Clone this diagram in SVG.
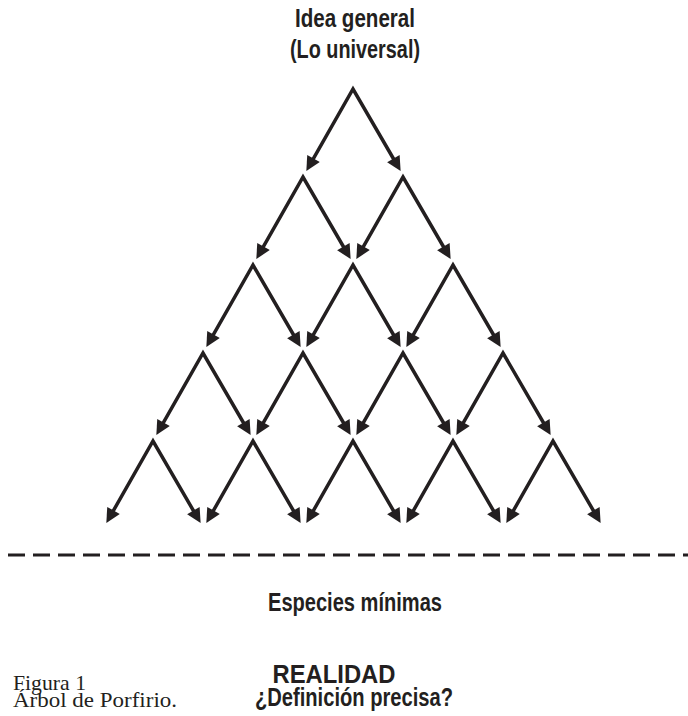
<svg xmlns="http://www.w3.org/2000/svg" width="688" height="716" viewBox="0 0 688 716">
<style>
.lbl{font-family:"Liberation Sans Narrow","Liberation Sans",Arial,sans-serif;font-size:25px;font-weight:bold;fill:#231f20;text-anchor:middle;}
.cap{font-family:"Liberation Serif","Times New Roman",serif;font-size:22px;fill:#231f20;}
.arr{fill:none;stroke:#231f20;stroke-width:3.5;stroke-linejoin:miter;marker-start:url(#ah);marker-end:url(#ah);}
.dash{stroke:#231f20;stroke-width:3;stroke-dasharray:17 8;}
</style>
<defs>
<marker id="ah" markerUnits="userSpaceOnUse" markerWidth="20" markerHeight="20" viewBox="-2 -8 18 16" refX="2" refY="0" orient="auto-start-reverse">
<path d="M0,-6.5 L13,0 L0,6.5 z" fill="#231f20"/>
</marker>
</defs>
<g id="top-label">
<text class="lbl" x="355" y="27" textLength="120" lengthAdjust="spacingAndGlyphs">Idea general</text>
<text class="lbl" x="355" y="58" textLength="130" lengthAdjust="spacingAndGlyphs">(Lo universal)</text>
</g>
<g id="connectors">
<path class="arr" d="M312.4,160.4 L353,89 L394.5,160.5"/>
<path class="arr" d="M262.4,248.4 L303,177 L344.5,248.5"/>
<path class="arr" d="M362.4,248.4 L403,177 L444.5,248.5"/>
<path class="arr" d="M212.4,336.4 L253,265 L294.5,336.5"/>
<path class="arr" d="M312.4,336.4 L353,265 L394.5,336.5"/>
<path class="arr" d="M412.4,336.4 L453,265 L494.5,336.5"/>
<path class="arr" d="M162.4,424.4 L203,353 L244.5,424.5"/>
<path class="arr" d="M262.4,424.4 L303,353 L344.5,424.5"/>
<path class="arr" d="M362.4,424.4 L403,353 L444.5,424.5"/>
<path class="arr" d="M462.4,424.4 L503,353 L544.5,424.5"/>
<path class="arr" d="M112.4,512.4 L153,441 L194.5,512.5"/>
<path class="arr" d="M212.4,512.4 L253,441 L294.5,512.5"/>
<path class="arr" d="M312.4,512.4 L353,441 L394.5,512.5"/>
<path class="arr" d="M412.4,512.4 L453,441 L494.5,512.5"/>
<path class="arr" d="M512.4,512.4 L553,441 L594.5,512.5"/>
</g>
<g id="divider">
<line class="dash" x1="8" y1="555" x2="688" y2="555"/>
</g>
<g id="bottom-label">
<text class="lbl" x="355" y="611" textLength="174" lengthAdjust="spacingAndGlyphs">Especies mínimas</text>
</g>
<g id="reality-label">
<text class="lbl" x="334" y="683" textLength="123" lengthAdjust="spacingAndGlyphs">REALIDAD</text>
<text class="lbl" x="354" y="706" textLength="198" lengthAdjust="spacingAndGlyphs">¿Definición precisa?</text>
</g>
<g id="caption">
<text class="cap" x="13" y="690" textLength="73" lengthAdjust="spacingAndGlyphs">Figura 1</text>
<text class="cap" x="13" y="707" textLength="164" lengthAdjust="spacingAndGlyphs">Árbol de Porfirio.</text>
</g>
</svg>
